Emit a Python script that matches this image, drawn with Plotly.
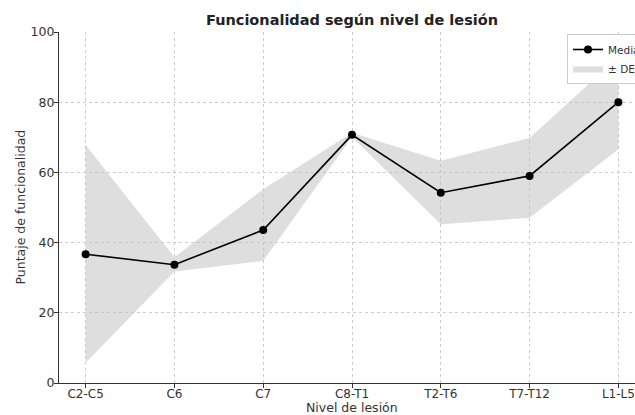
import plotly.graph_objects as go

categories = ["C2-C5", "C6", "C7", "C8-T1", "T2-T6", "T7-T12", "L1-L5"]
mean_score = [36.7, 33.7, 43.6, 70.7, 54.2, 59.0, 80.0]
upper_sd = [67.8, 35.8, 55.2, 71.3, 63.3, 69.8, 92.8]
lower_sd = [5.8, 31.8, 34.8, 70.1, 45.2, 47.1, 66.6]

FONT = "DejaVu Sans"
# The reference is a crop of a wider chart: the figure is drawn wider than
# the 635px window and the part beyond the window edge is simply not visible.
W, H = 680, 415
L, R, T, B = 59, 35, 32, 32
PW, PH = W - L - R, H - T - B

fig = go.Figure()
fig.add_trace(go.Scatter(
    x=categories + categories[::-1],
    y=upper_sd + lower_sd[::-1],
    fill="toself",
    fillcolor="rgba(190,190,190,0.5)",
    line=dict(width=0, color="rgba(0,0,0,0)"),
    mode="lines",
    name="± DE",
    hoverinfo="skip",
    legendrank=2,
))
fig.add_trace(go.Scatter(
    x=categories,
    y=mean_score,
    mode="lines+markers",
    line=dict(color="black", width=1.6),
    marker=dict(color="black", size=8),
    name="Media",
    legendrank=1,
))

fig.update_layout(
    width=W, height=H,
    margin=dict(l=L, r=R, t=T, b=B, autoexpand=False),
    paper_bgcolor="white",
    plot_bgcolor="white",
    font=dict(family=FONT, size=12, color="#333333"),
    title=dict(
        text="<b>Funcionalidad según nivel de lesión</b>",
        x=0.5, xanchor="center", xref="paper",
        y=1 - 20 / H, yanchor="middle", yref="container",
        font=dict(family=FONT, size=14.5, color="#222222"),
    ),
    showlegend=True,
    legend=dict(
        x=(567 - L) / PW, xanchor="left",
        y=1 - 2 / PH, yanchor="top",
        bgcolor="white", bordercolor="#cccccc", borderwidth=1,
        font=dict(family=FONT, size=10.5, color="#333333"),
        tracegroupgap=0,
        traceorder="normal",
    ),
    annotations=[
        dict(text="Nivel de lesión", xref="paper", yref="paper",
             x=0.5, y=-(407 - (H - B)) / PH,
             xanchor="center", yanchor="middle", showarrow=False,
             font=dict(family=FONT, size=12.5, color="#333333")),
        dict(text="Puntaje de funcionalidad", xref="paper", yref="paper",
             x=-(L - 20) / PW, y=0.5, textangle=-90,
             xanchor="center", yanchor="middle", showarrow=False,
             font=dict(family=FONT, size=12.5, color="#333333")),
    ],
)

fig.update_xaxes(
    type="category",
    range=[-0.3, 6.3],
    showline=True, linecolor="#333333", linewidth=1.3,
    ticks="outside", ticklen=4, tickcolor="#333333",
    showgrid=True, gridcolor="#cccccc", griddash="dot", gridwidth=1,
    zeroline=False,
    ticklabelstandoff=-5,
    tickfont=dict(family=FONT, size=12, color="#333333"),
)
fig.update_yaxes(
    range=[0, 100],
    tickvals=[0, 20, 40, 60, 80, 100],
    showline=True, linecolor="#333333", linewidth=1.3,
    ticks="outside", ticklen=4, tickcolor="#333333",
    showgrid=True, gridcolor="#cccccc", griddash="dot", gridwidth=1,
    zeroline=False,
    ticklabelstandoff=-3,
    tickfont=dict(family=FONT, size=12.5, color="#333333"),
)

fig.write_html(
    "out.html",
    config={"displayModeBar": False},
    post_script=(
        "document.documentElement.style.margin='0';"
        "document.documentElement.style.overflow='hidden';"
        "document.body.style.margin='0';"
        "document.body.style.overflow='hidden';"
    ),
)
